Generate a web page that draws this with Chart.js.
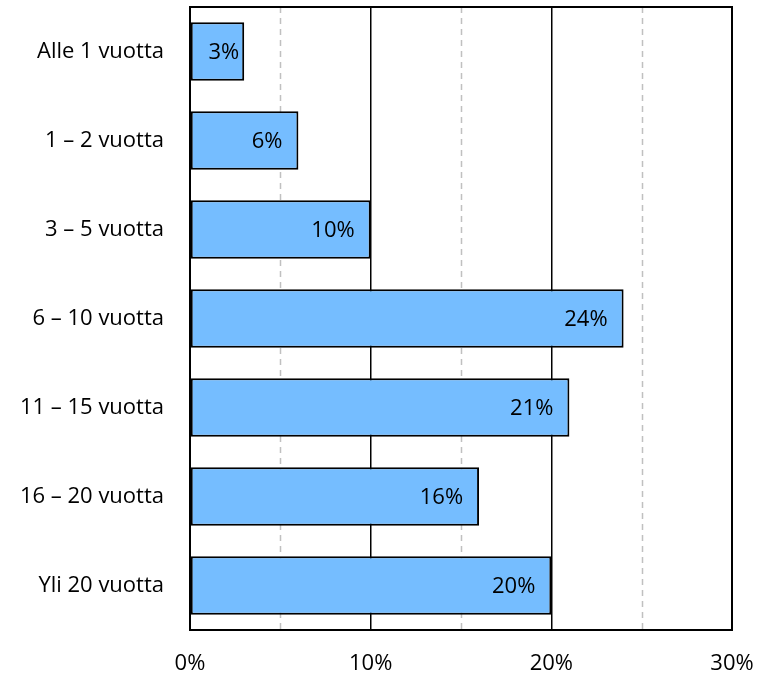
<!DOCTYPE html>
<html>
<head>
<meta charset="utf-8">
<script src="https://cdn.jsdelivr.net/npm/chart.js@4/dist/chart.umd.min.js"></script>
<style>
  body { margin: 0; background: #fff; }
  #wrap { width: 758px; height: 676px; }
</style>
</head>
<body>
<div id="wrap"><canvas id="chart" width="758" height="676"></canvas></div>
<script>
// kategoriat ja arvot
const categories = ["Alle 1 vuotta", "1 – 2 vuotta", "3 – 5 vuotta", "6 – 10 vuotta", "11 – 15 vuotta", "16 – 20 vuotta", "Yli 20 vuotta"];
const values = [3, 6, 10, 24, 21, 16, 20];
const xTicks = [0, 10, 20, 30];
const minorLines = [5, 15, 25];

const FONT = "'Open Sans', sans-serif";
const FSIZE = 22;

// katkoviivat 5 %, 15 %, 25 %
const minorGrid = {
    id: "minorGrid",
    beforeDatasetsDraw(chart) {
        const ctx = chart.ctx;
        const x = chart.scales.x;
        const area = chart.chartArea;
        ctx.save();
        ctx.strokeStyle = "#c0c0c0";
        ctx.lineWidth = 1.5;
        ctx.setLineDash([6, 5]);
        minorLines.forEach(v => {
            const px = Math.round(x.getPixelForValue(v)) + 0.5;
            ctx.beginPath();
            ctx.moveTo(px, area.top);
            ctx.lineTo(px, area.bottom);
            ctx.stroke();
        });
        ctx.restore();
    }
};

// arvot palkkien sisään + kehys
const labelsAndFrame = {
    id: "labelsAndFrame",
    afterDatasetsDraw(chart) {
        const ctx = chart.ctx;
        const meta = chart.getDatasetMeta(0);
        ctx.save();
        ctx.font = FSIZE + "px " + FONT;
        ctx.fillStyle = "#000";
        ctx.textAlign = "right";
        ctx.textBaseline = "middle";
        meta.data.forEach((bar, i) => {
            const txt = values[i] + "%";
            const w = ctx.measureText(txt).width;
            let right = bar.x - 16;
            if (right - w < bar.base + 10) right = bar.x - 5;
            ctx.fillText(txt, right, bar.y + 1);
        });
        ctx.restore();
    },
    afterDraw(chart) {
        const ctx = chart.ctx;
        const a = chart.chartArea;
        ctx.save();
        ctx.strokeStyle = "#000";
        ctx.lineWidth = 2;
        ctx.strokeRect(a.left, a.top, a.right - a.left, a.bottom - a.top);
        ctx.restore();
    }
};

new Chart(document.getElementById("chart").getContext("2d"), {
    type: "bar",
    data: {
        labels: categories,
        datasets: [{
            data: values,
            backgroundColor: "#75bdff",
            borderColor: "#000",
            borderWidth: 2,
            borderSkipped: false,
            barPercentage: 0.66,
            categoryPercentage: 1
        }]
    },
    options: {
        indexAxis: "y",
        responsive: false,
        animation: false,
        layout: { padding: { top: 7, left: 0, right: 0, bottom: 0 } },
        plugins: {
            legend: { display: false },
            tooltip: { enabled: false }
        },
        scales: {
            x: {
                min: 0,
                max: 30,
                ticks: {
                    stepSize: 5,
                    autoSkip: false,
                    maxRotation: 0,
                    padding: 21,
                    color: "#000",
                    font: { family: FONT, size: FSIZE },
                    callback: v => xTicks.includes(v) ? v + "%" : ""
                },
                grid: {
                    drawTicks: false,
                    color: c => (c.tick && c.tick.value % 10 === 0) ? "#000" : "rgba(0,0,0,0)",
                    lineWidth: 1.5
                },
                border: { display: false },
                afterFit(scale) {
                    scale.height = 46;
                    scale.paddingRight = 26;
                    scale.paddingLeft = 0;
                }
            },
            y: {
                ticks: {
                    color: "#000",
                    padding: 26,
                    font: { family: FONT, size: FSIZE }
                },
                grid: { display: false, drawTicks: false },
                border: { display: false },
                afterFit(scale) {
                    scale.width = 190;
                    scale.paddingTop = 0;
                    scale.paddingBottom = 0;
                }
            }
        }
    },
    plugins: [minorGrid, labelsAndFrame]
});
</script>
</body>
</html>
